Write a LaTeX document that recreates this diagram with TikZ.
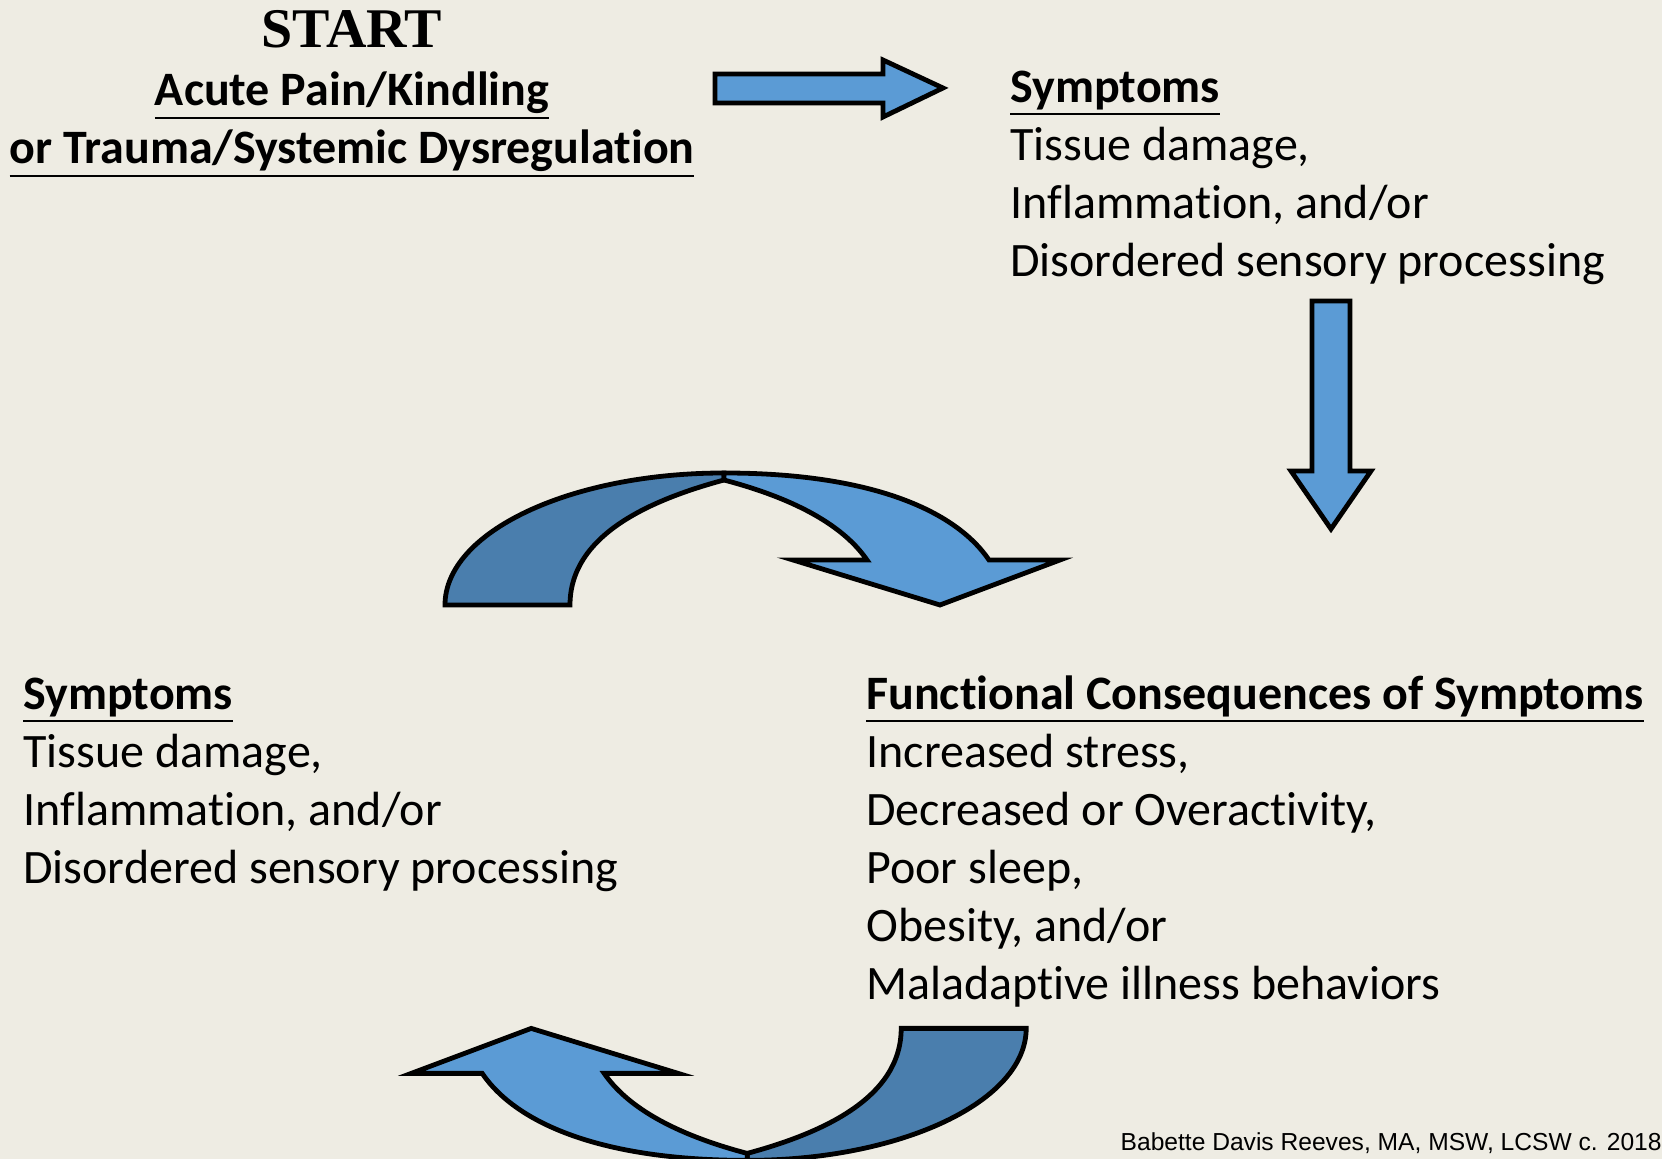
\documentclass[tikz,border=0pt]{standalone}
\usepackage{fontspec}
\setmainfont{Carlito}[Ligatures=NoCommon]
\newfontfamily\titlefont{Liberation Serif}
\newfontfamily\creditfont{Liberation Sans}
\definecolor{pagebg}{HTML}{EEECE3}
\definecolor{frontblue}{HTML}{5B9BD5}
\definecolor{backblue}{HTML}{4A7EAD}
\newcommand{\headline}[1]{\vtop{\hbox{\textbf{#1}}\kern1.2pt\hrule height 1.1pt}}
% one curved block arrow, drawn in pixel units
\newcommand{\turnarrow}{%
  \filldraw[backband] (445,605) .. controls (445,532) and (570,473) .. (724,473)
    -- (724,480) .. controls (650,500) and (570,535) .. (570,605) -- cycle;
  \filldraw[frontband] (724,473) .. controls (870,473) and (955,510) .. (989,560)
    -- (1060,560) -- (940,605) -- (793,560) -- (867,560)
    .. controls (845,528) and (800,500) .. (724,480) -- cycle;
}
\begin{document}
\begin{tikzpicture}[x=0.5pt,y=-0.5pt,
    band/.style={draw=black,line width=2.4pt,line join=miter},
    backband/.style={band,fill=backblue},
    frontband/.style={band,fill=frontblue},
    blockarrow/.style={band,fill=frontblue},
    textblock/.style={align=left,inner sep=0pt,font=\fontsize{24}{29}\selectfont},
    credit/.style={inner sep=0pt,font=\creditfont\fontsize{12.3}{14}\selectfont}]
  \useasboundingbox (0,0) rectangle (1662,1159);
  \fill[pagebg] (0,0) rectangle (1662,1159);

  % start (base anchors sit on the last line)
  \node[inner sep=0pt,anchor=base,font=\titlefont\bfseries\fontsize{28}{32}\selectfont]
    (start) at (352,48) {START};
  \node[textblock,align=center,anchor=base] (cause) at (352,164)
    {\headline{Acute Pain/Kindling}\\\headline{or Trauma/Systemic Dysregulation}};

  % symptoms, top right
  \node[textblock,anchor=base west] (symptomsA) at (1010,277)
    {\headline{Symptoms}\\Tissue damage,\\Inflammation, and/or\\Disordered sensory processing};

  % functional consequences
  \node[textblock,anchor=base west] (consequences) at (866,1000)
    {\headline{Functional Consequences of Symptoms}\\Increased stress,\\Decreased or Overactivity,\\Poor sleep,\\Obesity, and/or\\Maladaptive illness behaviors};

  % symptoms, lower left
  \node[textblock,anchor=base west] (symptomsB) at (23,884)
    {\headline{Symptoms}\\Tissue damage,\\Inflammation, and/or\\Disordered sensory processing};

  \node[credit,anchor=base east] (author) at (1662,1151)
    {Babette Davis Reeves, MA, MSW, LCSW c. 2018};

  % straight arrows
  \draw[blockarrow] (715,74) -- (883,74) -- (883,60) -- (943,88) -- (883,117)
    -- (883,103) -- (715,103) -- cycle;
  \draw[blockarrow] (1312,301) -- (1350,301) -- (1350,471) -- (1371,471)
    -- (1331,529) -- (1291,471) -- (1312,471) -- cycle;

  % the loop
  \begin{scope}
    \turnarrow
  \end{scope}
  \begin{scope}[rotate around={180:(735.6,816.7)}]
    \turnarrow
  \end{scope}
\end{tikzpicture}
\end{document}
